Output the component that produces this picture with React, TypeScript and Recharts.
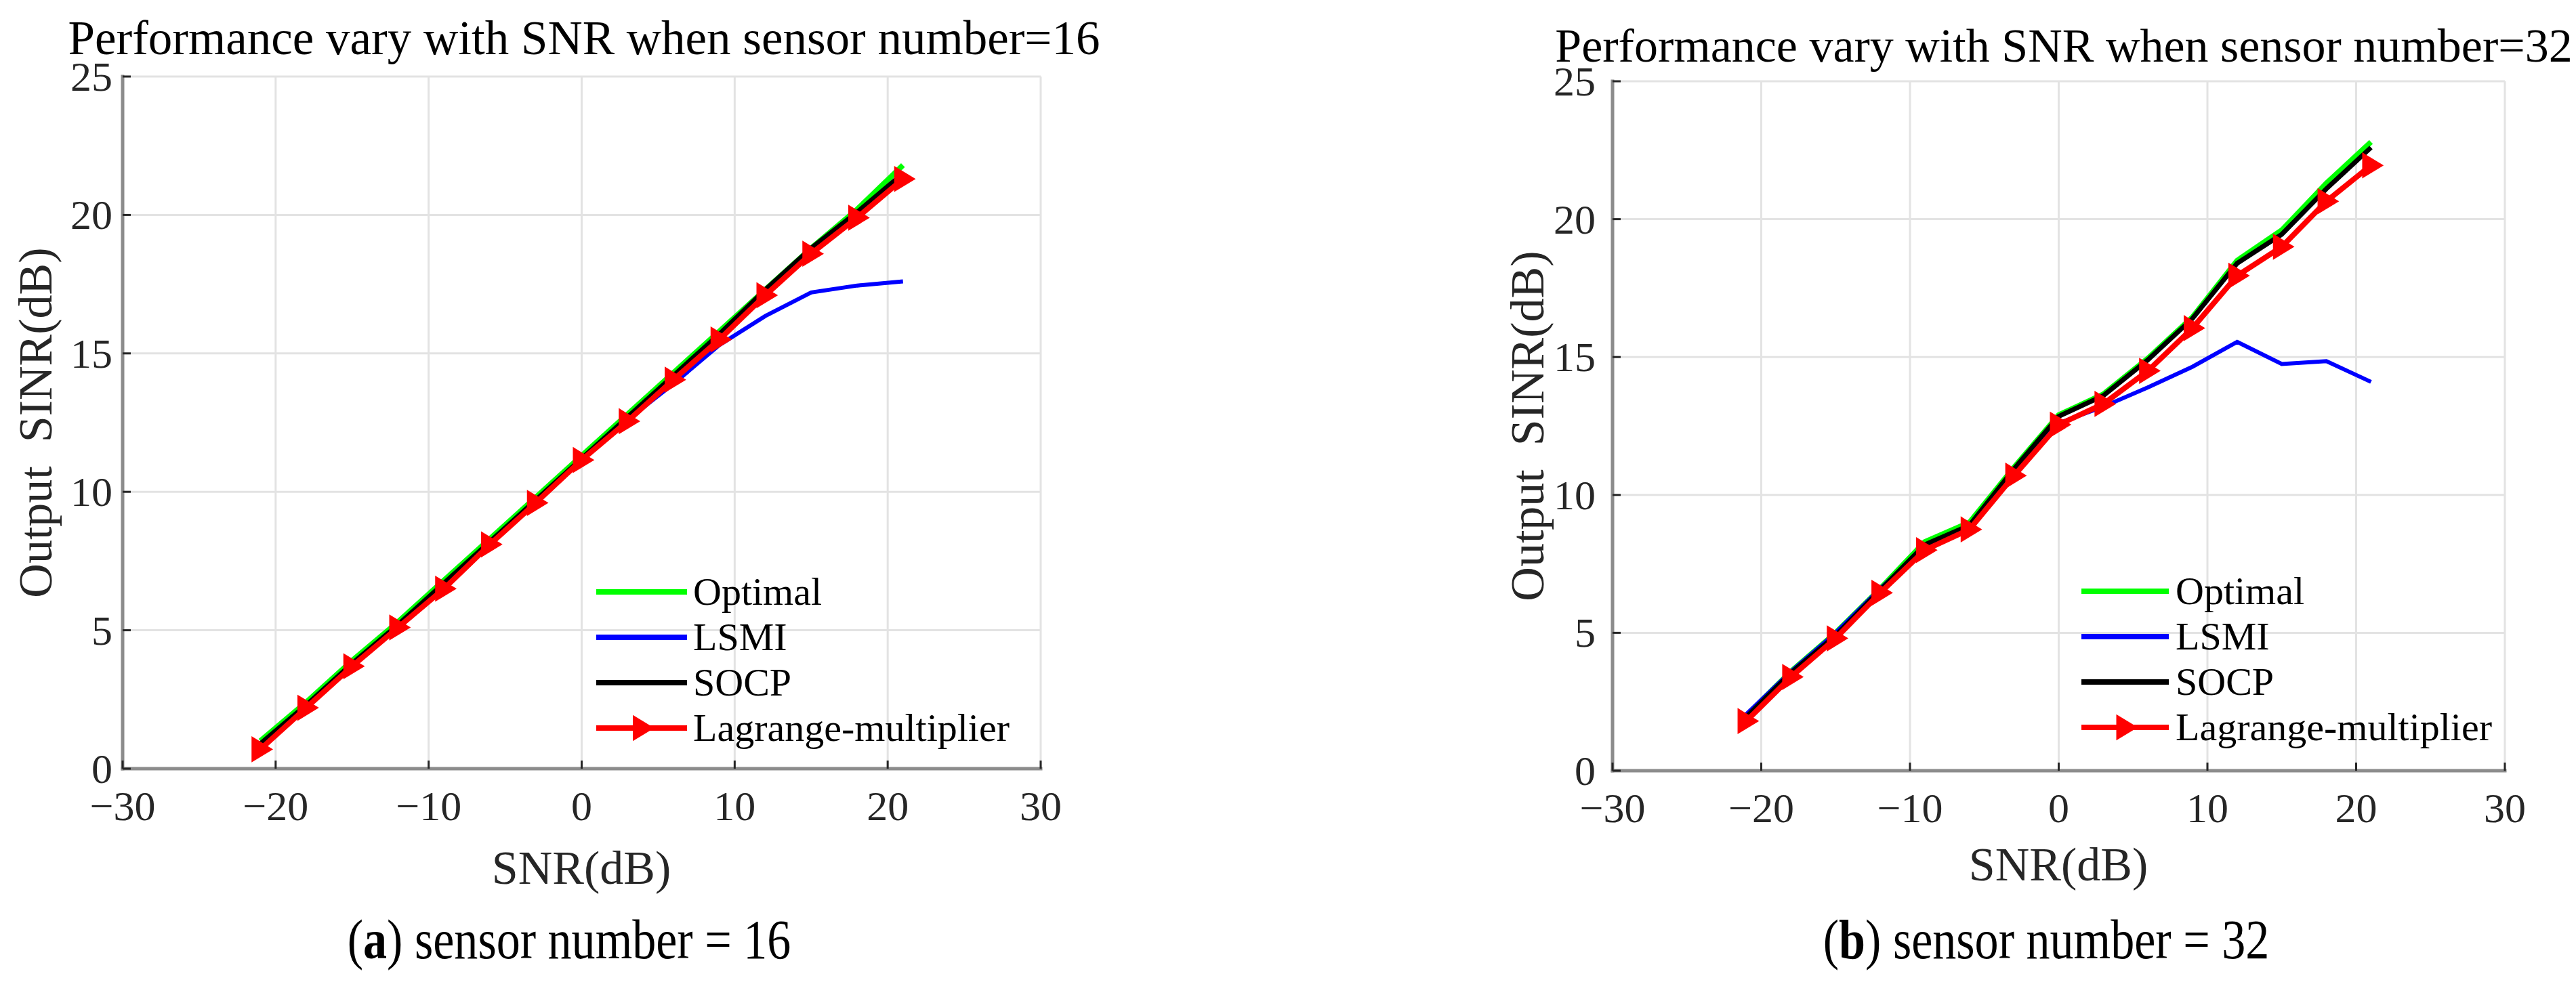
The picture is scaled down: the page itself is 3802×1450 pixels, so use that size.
import { LineChart, Line, XAxis, YAxis, CartesianGrid, Legend } from 'recharts';

// SNR points (dB) shared by both panels
const snr = [-21, -18, -15, -12, -9, -6, -3, 0, 3, 6, 9, 12, 15, 18, 21];
const xTicks = [-30, -20, -10, 0, 10, 20, 30];
const yTicks = [0, 5, 10, 15, 20, 25];

// (a) sensor number = 16
const optimal16 = [1.0, 2.4, 3.9, 5.3, 6.8, 8.3, 9.8, 11.3, 12.8, 14.3, 15.8, 17.3, 18.8, 20.2, 21.8];
const lsmi16 = [0.9, 2.3, 3.8, 5.2, 6.6, 8.1, 9.7, 11.2, 12.6, 13.9, 15.3, 16.35, 17.2, 17.45, 17.6];
const socp16 = [0.9, 2.3, 3.8, 5.2, 6.7, 8.2, 9.7, 11.2, 12.7, 14.2, 15.7, 17.3, 18.8, 20.1, 21.5];
const lagrange16 = [0.7, 2.2, 3.7, 5.1, 6.5, 8.1, 9.6, 11.15, 12.55, 14.05, 15.5, 17.1, 18.6, 19.9, 21.3];

// (b) sensor number = 32
const optimal32 = [2.0, 3.6, 5.0, 6.6, 8.3, 9.0, 11.0, 12.9, 13.65, 14.95, 16.45, 18.5, 19.6, 21.3, 22.8];
const lsmi32 = [2.05, 3.6, 5.0, 6.6, 8.1, 8.85, 10.9, 12.6, 13.2, 13.9, 14.65, 15.55, 14.75, 14.85, 14.1];
const socp32 = [1.95, 3.55, 4.9, 6.55, 8.2, 8.9, 10.95, 12.85, 13.6, 14.9, 16.4, 18.4, 19.45, 21.1, 22.6];
const lagrange32 = [1.8, 3.4, 4.8, 6.45, 8.0, 8.75, 10.7, 12.55, 13.3, 14.5, 16.05, 17.95, 19.0, 20.65, 21.95];

const series = [
  { key: 'optimal', name: 'Optimal', color: '#00ff00', width: 8 },
  { key: 'lsmi', name: 'LSMI', color: '#0000ff', width: 6 },
  { key: 'socp', name: 'SOCP', color: '#000000', width: 7 },
  { key: 'lagrange', name: 'Lagrange-multiplier', color: '#ff0000', width: 8 },
];

const buildRows = (opt: number[], ls: number[], so: number[], lg: number[]) =>
  snr.map((x, i) => ({ snr: x, optimal: opt[i], lsmi: ls[i], socp: so[i], lagrange: lg[i] }));

const rows16 = buildRows(optimal16, lsmi16, socp16, lagrange16);
const rows32 = buildRows(optimal32, lsmi32, socp32, lagrange32);

const FONT = "'Liberation Serif', 'Times New Roman', serif";
const TICK_COLOR = '#262626';
const BOX_COLOR = '#8c8c8c';
const H = 1450;

const fmt = (v: number) => (v < 0 ? '\u2212' + Math.abs(v) : String(v));

const triangle = (cx: number, cy: number) =>
  `M${cx - 10},${cy - 14} L${cx + 13},${cy} L${cx - 10},${cy + 14} Z`;

const TriangleDot = (props: any) => {
  const { cx, cy, index } = props;
  if (cx == null || cy == null) return <g key={index} />;
  return (
    <path
      key={index}
      d={triangle(cx, cy)}
      fill="#ff0000"
      stroke="#ff0000"
      strokeWidth={6}
    />
  );
};

interface PanelProps {
  left: number;
  width: number;
  plot: { left: number; right: number; top: number; bottom: number };
  legend: { left: number; top: number; sample: number; gap: number };
  yTickGap: number;
  data: any[];
}

const Panel = ({ left, width, plot, legend, yTickGap, data }: PanelProps) => {
  const axisH = 100;
  const axisW = 100;
  const margin = {
    top: plot.top,
    right: width - plot.right,
    bottom: H - plot.bottom - axisH,
    left: plot.left - axisW,
  };

  const BottomTick = (p: any) => (
    <g>
      <line x1={p.x} x2={p.x} y1={plot.bottom} y2={plot.bottom - 12} stroke={TICK_COLOR} strokeWidth={3} />
      <text x={p.x} y={plot.bottom + 76} textAnchor="middle" fontFamily={FONT} fontSize={62} fill={TICK_COLOR}>
        {fmt(p.payload.value)}
      </text>
    </g>
  );
  const LeftTick = (p: any) => (
    <g>
      <line x1={plot.left} x2={plot.left + 12} y1={p.y} y2={p.y} stroke={TICK_COLOR} strokeWidth={3} />
      <text x={plot.left - yTickGap} y={p.y + 21} textAnchor="end" fontFamily={FONT} fontSize={62} fill={TICK_COLOR}>
        {fmt(p.payload.value)}
      </text>
    </g>
  );
  const TopTick = (p: any) => (
    <line x1={p.x} x2={p.x} y1={plot.top} y2={plot.top + 12} stroke={TICK_COLOR} strokeWidth={3} />
  );
  const RightTick = (p: any) => (
    <line x1={plot.right} x2={plot.right - 12} y1={p.y} y2={p.y} stroke={TICK_COLOR} strokeWidth={3} />
  );

  // keep the legend in the plotting order (Recharts sorts it by name otherwise)
  const renderLegend = ({ payload }: any) => {
    const items = [...(payload || [])].sort(
      (a: any, b: any) =>
        series.findIndex((s) => s.key === a.dataKey) - series.findIndex((s) => s.key === b.dataKey)
    );
    const mid = legend.sample / 2;
    return (
      <div style={{ fontFamily: FONT }}>
        {items.map((entry: any) => (
          <div key={entry.value} style={{ display: 'flex', alignItems: 'center', height: 67 }}>
            <svg width={legend.sample} height={40} style={{ display: 'block' }}>
              <line x1={0} x2={legend.sample} y1={20} y2={20} stroke={entry.color} strokeWidth={8} />
              {entry.dataKey === 'lagrange' && (
                <path d={triangle(mid, 20)} fill={entry.color} stroke={entry.color} strokeWidth={6} />
              )}
            </svg>
            <span style={{ marginLeft: legend.gap, fontSize: 58, color: '#000', lineHeight: '67px', whiteSpace: 'nowrap' }}>
              {entry.value}
            </span>
          </div>
        ))}
      </div>
    );
  };

  return (
    <div style={{ position: 'absolute', left, top: 0, width, height: H }}>
      <LineChart width={width} height={H} data={data} margin={margin}>
        <CartesianGrid stroke="#e3e3e3" strokeWidth={3} />
        <XAxis
          dataKey="snr"
          type="number"
          domain={[-30, 30]}
          ticks={xTicks}
          interval={0}
          height={axisH}
          axisLine={{ stroke: BOX_COLOR, strokeWidth: 5, strokeLinecap: 'square' }}
          tickLine={false}
          tick={BottomTick}
        />
        <XAxis
          xAxisId="top"
          orientation="top"
          type="number"
          domain={[-30, 30]}
          ticks={xTicks}
          interval={0}
          height={0}
          axisLine={{ stroke: BOX_COLOR, strokeWidth: 5, strokeLinecap: 'square' }}
          tickLine={false}
          tick={TopTick}
        />
        <YAxis
          type="number"
          domain={[0, 25]}
          ticks={yTicks}
          interval={0}
          width={axisW}
          axisLine={{ stroke: BOX_COLOR, strokeWidth: 5, strokeLinecap: 'square' }}
          tickLine={false}
          tick={LeftTick}
        />
        <YAxis
          yAxisId="right"
          orientation="right"
          type="number"
          domain={[0, 25]}
          ticks={yTicks}
          interval={0}
          width={0}
          axisLine={{ stroke: BOX_COLOR, strokeWidth: 5, strokeLinecap: 'square' }}
          tickLine={false}
          tick={RightTick}
        />
        {series.map((s) => (
          <Line
            key={s.key}
            type="linear"
            dataKey={s.key}
            name={s.name}
            stroke={s.color}
            strokeWidth={s.width}
            dot={s.key === 'lagrange' ? TriangleDot : false}
            activeDot={false}
            isAnimationActive={false}
          />
        ))}
        <Legend
          layout="vertical"
          align="center"
          verticalAlign="middle"
          content={renderLegend}
          wrapperStyle={{ left: legend.left, top: legend.top, width: 'auto', height: 'auto' }}
        />
      </LineChart>
    </div>
  );
};

const App = () => {
  return (
    <div style={{ position: 'absolute', left: 0, top: 0, width: 3802, height: H, background: '#fff', overflow: 'hidden' }}>
      <Panel
        left={0}
        width={1900}
        plot={{ left: 181, right: 1536, top: 113, bottom: 1135 }}
        legend={{ left: 880, top: 840, sample: 134, gap: 9 }}
        yTickGap={15}
        data={rows16}
      />
      <Panel
        left={1900}
        width={1902}
        plot={{ left: 480, right: 1797, top: 120, bottom: 1138 }}
        legend={{ left: 1172, top: 839, sample: 129, gap: 10 }}
        yTickGap={25}
        data={rows32}
      />
      <svg width={3802} height={H} style={{ position: 'absolute', left: 0, top: 0, pointerEvents: 'none' }} fontFamily={FONT}>
        <text x={862} y={80} textAnchor="middle" fontSize={71} fill="#000">
          Performance vary with SNR when sensor number=16
        </text>
        <text x={3046} y={91} textAnchor="middle" fontSize={70} fill="#000">
          Performance vary with SNR when sensor number=32
        </text>
        <text x={858} y={1305} textAnchor="middle" fontSize={70} fill={TICK_COLOR}>
          SNR(dB)
        </text>
        <text x={3038} y={1300} textAnchor="middle" fontSize={70} fill={TICK_COLOR}>
          SNR(dB)
        </text>
        <text x={76} y={624} textAnchor="middle" fontSize={70} fill={TICK_COLOR} transform="rotate(-90 76 624)" style={{ whiteSpace: 'pre' }}>
          {'Output  SINR(dB)'}
        </text>
        <text x={2278} y={629} textAnchor="middle" fontSize={70} fill={TICK_COLOR} transform="rotate(-90 2278 629)" style={{ whiteSpace: 'pre' }}>
          {'Output  SINR(dB)'}
        </text>
        <g transform="translate(840 1415) scale(0.855 1)">
          <text x={0} y={0} textAnchor="middle" fontSize={82} fill="#000">
            (<tspan fontWeight="bold">a</tspan>) sensor number = 16
          </text>
        </g>
        <g transform="translate(3020 1415) scale(0.855 1)">
          <text x={0} y={0} textAnchor="middle" fontSize={82} fill="#000">
            (<tspan fontWeight="bold">b</tspan>) sensor number = 32
          </text>
        </g>
      </svg>
    </div>
  );
};

export default App;
